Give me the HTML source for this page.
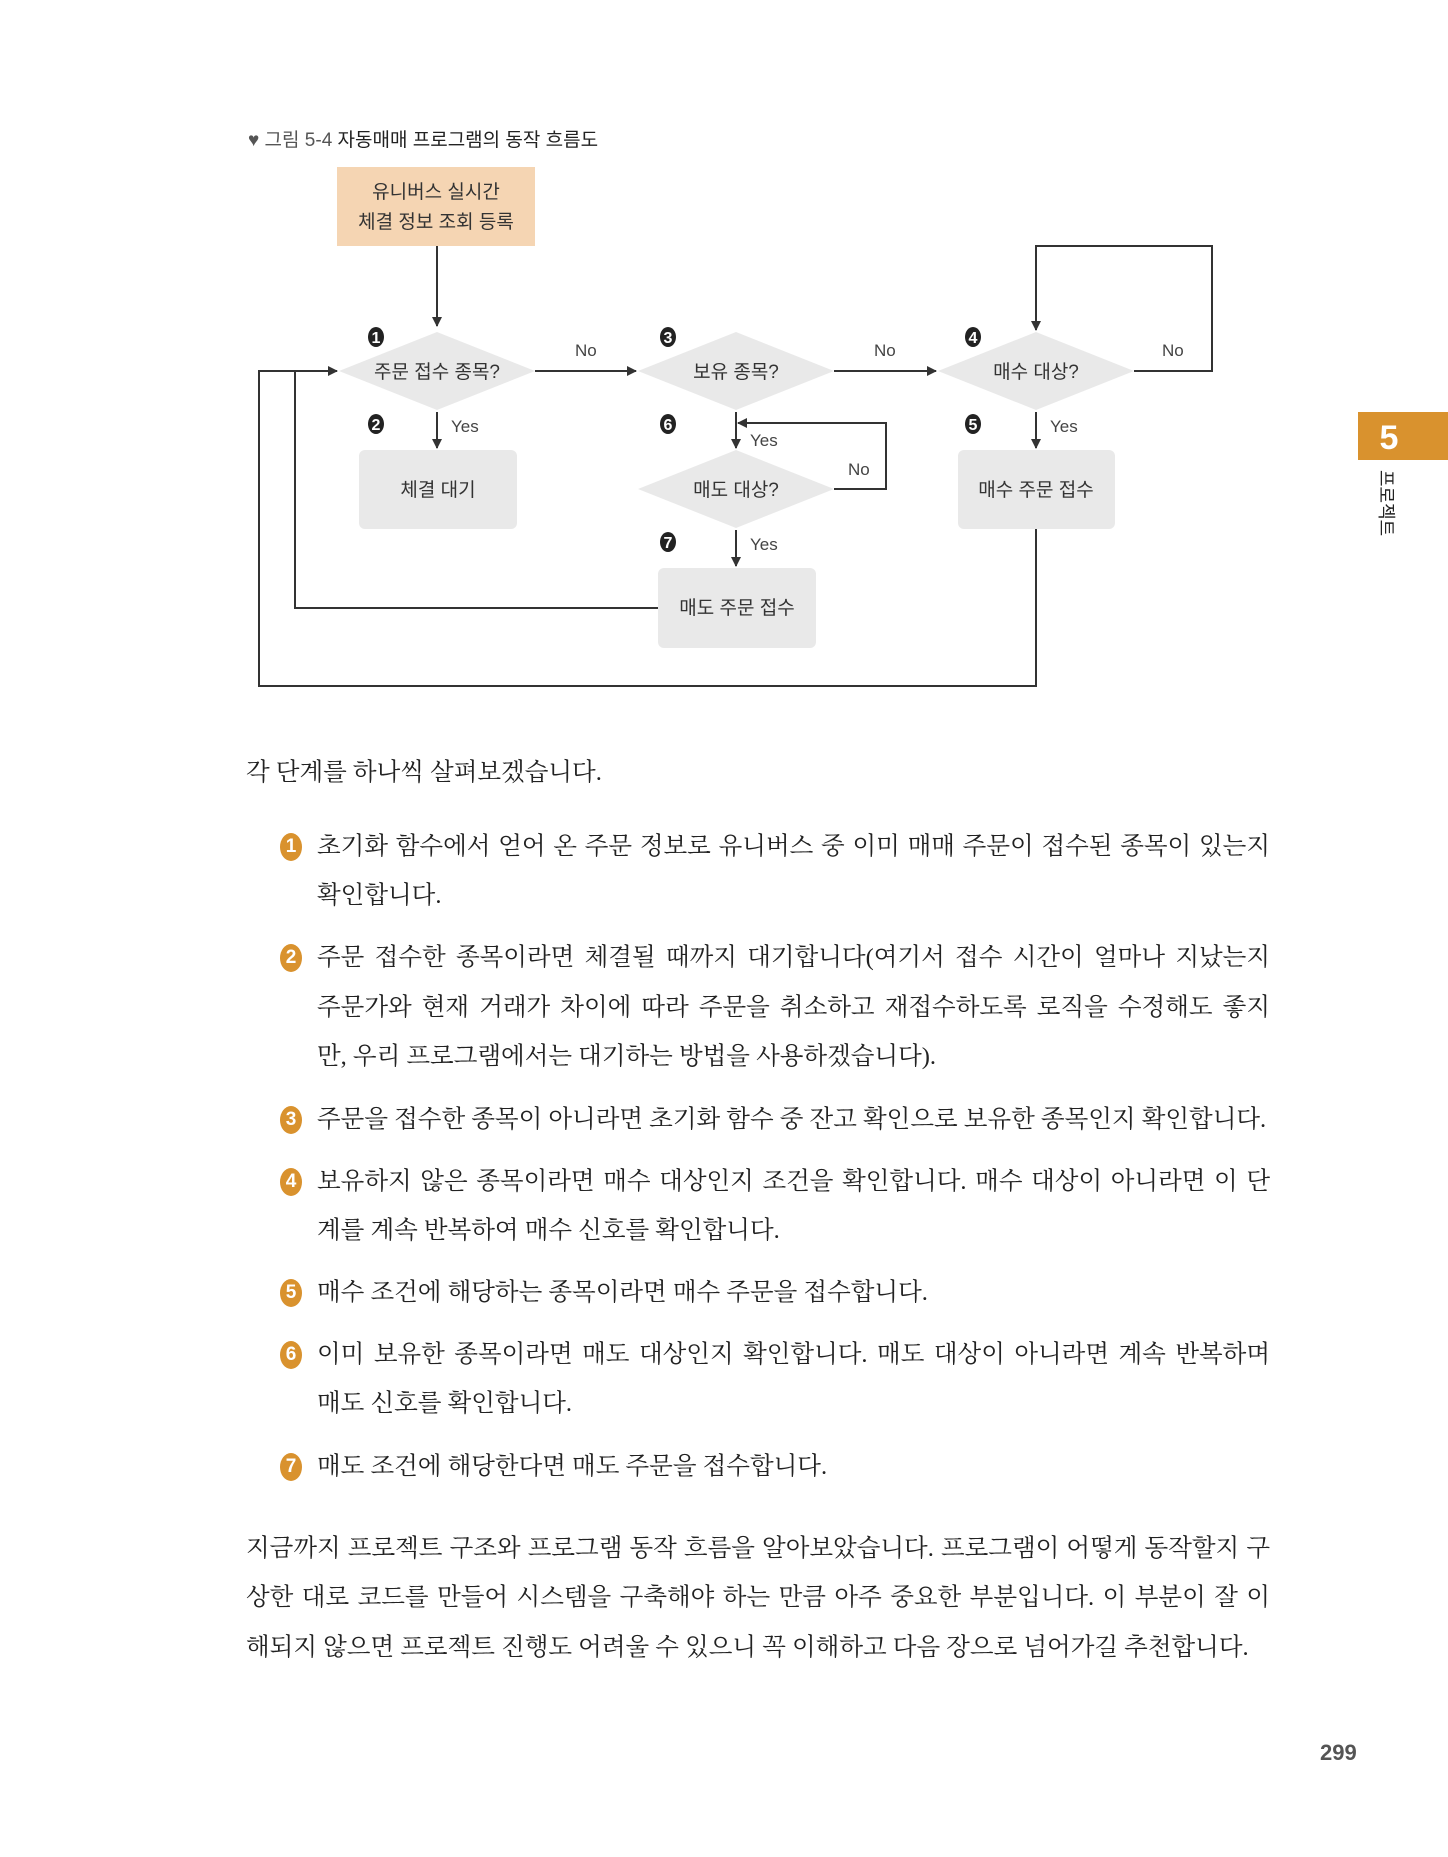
<!DOCTYPE html>
<html><head><meta charset="utf-8"><style>
body{margin:0;background:#fff;}
#p{position:relative;width:1448px;height:1857px;overflow:hidden;font-family:"Liberation Sans","Noto Sans CJK KR",sans-serif;color:#222;}
.t{position:absolute;font-family:"Liberation Serif","Noto Serif CJK SC",serif;font-size:24.5px;height:50px;line-height:50px;white-space:nowrap;color:#222;}
.j{text-align:justify;text-align-last:justify;white-space:normal;overflow:hidden;}
.b{position:absolute;width:22px;height:28px;border-radius:50%;background:#d9922e;color:#fff;font:bold 19px/28px "Liberation Sans",sans-serif;text-align:center;}
</style></head><body><div id="p">
<svg width="1448" height="760" style="position:absolute;left:0;top:0" font-family="Liberation Sans, Noto Sans CJK KR, sans-serif">
<defs><marker id="a" markerWidth="10" markerHeight="10" refX="9" refY="5" orient="auto" markerUnits="userSpaceOnUse"><path d="M0,0L10,5L0,10z" fill="#333"/></marker></defs>
<text x="248" y="146" font-size="19" fill="#555">♥ 그림 5-4 <tspan fill="#222">자동매매 프로그램의 동작 흐름도</tspan></text>
<rect x="337" y="167" width="198" height="79" fill="#f5d5b3"/>
<text x="436" y="198" font-size="19" text-anchor="middle" fill="#333">유니버스 실시간</text>
<text x="436" y="228" font-size="19" text-anchor="middle" fill="#333">체결 정보 조회 등록</text>
<g fill="#e9e9e9">
<polygon points="437,332 535,371 437,410 339,371"/>
<polygon points="736,332 834,371 736,410 638,371"/>
<polygon points="1036,332 1134,371 1036,410 938,371"/>
<polygon points="736,450 834,489 736,528 638,489"/>
<rect x="359" y="450" width="158" height="79" rx="6"/>
<rect x="958" y="450" width="157" height="79" rx="6"/>
<rect x="658" y="568" width="158" height="80" rx="6"/>
</g>
<g font-size="19" text-anchor="middle" fill="#333">
<text x="437" y="378">주문 접수 종목?</text>
<text x="736" y="378">보유 종목?</text>
<text x="1036" y="378">매수 대상?</text>
<text x="736" y="496">매도 대상?</text>
<text x="438" y="496">체결 대기</text>
<text x="1036" y="496">매수 주문 접수</text>
<text x="737" y="614">매도 주문 접수</text>
</g>
<g font-size="17" fill="#444">
<text x="575" y="356">No</text><text x="874" y="356">No</text><text x="1162" y="356">No</text>
<text x="451" y="432">Yes</text><text x="750" y="446">Yes</text><text x="1050" y="432">Yes</text>
<text x="848" y="475">No</text><text x="750" y="550">Yes</text>
</g>
<g font-size="16" font-weight="bold" fill="#fff" text-anchor="middle">
<ellipse cx="376" cy="337" rx="8" ry="10" fill="#222"/><text x="376" y="343">1</text>
<ellipse cx="376" cy="424" rx="8" ry="10" fill="#222"/><text x="376" y="430">2</text>
<ellipse cx="668" cy="337" rx="8" ry="10" fill="#222"/><text x="668" y="343">3</text>
<ellipse cx="973" cy="337" rx="8" ry="10" fill="#222"/><text x="973" y="343">4</text>
<ellipse cx="973" cy="424" rx="8" ry="10" fill="#222"/><text x="973" y="430">5</text>
<ellipse cx="668" cy="424" rx="8" ry="10" fill="#222"/><text x="668" y="430">6</text>
<ellipse cx="668" cy="542" rx="8" ry="10" fill="#222"/><text x="668" y="548">7</text>
</g>
<g stroke="#333" stroke-width="2" fill="none">
<path d="M437,246V326" marker-end="url(#a)"/>
<path d="M535,371H636" marker-end="url(#a)"/>
<path d="M834,371H936" marker-end="url(#a)"/>
<path d="M1134,371H1212V246H1036V330" marker-end="url(#a)"/>
<path d="M437,412V448" marker-end="url(#a)"/>
<path d="M1036,412V448" marker-end="url(#a)"/>
<path d="M736,412V448" marker-end="url(#a)"/>
<path d="M834,489H886V423H738"  marker-end="url(#a)"/>
<path d="M736,530V566" marker-end="url(#a)"/>
<path d="M658,608H295V371"/>
<path d="M1036,529V686H259V371H337" marker-end="url(#a)"/>
</g>
<rect x="1358" y="412" width="90" height="48" fill="#d9922e"/>
<text x="1389" y="449" font-size="34" font-weight="bold" fill="#fff" text-anchor="middle">5</text>
<text x="0" y="0" font-size="18" fill="#222" transform="translate(1380,470) rotate(90)">프로젝트</text>
</svg>
<div class="t" style="left:246px;top:748px">각 단계를 하나씩 살펴보겠습니다.</div>

<div class="b" style="left:280px;top:833px">1</div>
<div class="t j" style="left:317px;top:822px;width:953px">초기화 함수에서 얻어 온 주문 정보로 유니버스 중 이미 매매 주문이 접수된 종목이 있는지</div>
<div class="t" style="left:317px;top:871px">확인합니다.</div>

<div class="b" style="left:280px;top:944px">2</div>
<div class="t j" style="left:317px;top:933px;width:953px">주문 접수한 종목이라면 체결될 때까지 대기합니다(여기서 접수 시간이 얼마나 지났는지</div>
<div class="t j" style="left:317px;top:983px;width:953px">주문가와 현재 거래가 차이에 따라 주문을 취소하고 재접수하도록 로직을 수정해도 좋지</div>
<div class="t" style="left:317px;top:1032px">만, 우리 프로그램에서는 대기하는 방법을 사용하겠습니다).</div>

<div class="b" style="left:280px;top:1106px">3</div>
<div class="t" style="left:317px;top:1095px">주문을 접수한 종목이 아니라면 초기화 함수 중 잔고 확인으로 보유한 종목인지 확인합니다.</div>

<div class="b" style="left:280px;top:1168px">4</div>
<div class="t j" style="left:317px;top:1157px;width:953px">보유하지 않은 종목이라면 매수 대상인지 조건을 확인합니다. 매수 대상이 아니라면 이 단</div>
<div class="t" style="left:317px;top:1206px">계를 계속 반복하여 매수 신호를 확인합니다.</div>

<div class="b" style="left:280px;top:1279px">5</div>
<div class="t" style="left:317px;top:1268px">매수 조건에 해당하는 종목이라면 매수 주문을 접수합니다.</div>

<div class="b" style="left:280px;top:1341px">6</div>
<div class="t j" style="left:317px;top:1330px;width:953px">이미 보유한 종목이라면 매도 대상인지 확인합니다. 매도 대상이 아니라면 계속 반복하며</div>
<div class="t" style="left:317px;top:1379px">매도 신호를 확인합니다.</div>

<div class="b" style="left:280px;top:1453px">7</div>
<div class="t" style="left:317px;top:1442px">매도 조건에 해당한다면 매도 주문을 접수합니다.</div>

<div class="t j" style="left:246px;top:1524px;width:1024px">지금까지 프로젝트 구조와 프로그램 동작 흐름을 알아보았습니다. 프로그램이 어떻게 동작할지 구</div>
<div class="t j" style="left:246px;top:1573px;width:1024px">상한 대로 코드를 만들어 시스템을 구축해야 하는 만큼 아주 중요한 부분입니다. 이 부분이 잘 이</div>
<div class="t" style="left:246px;top:1623px">해되지 않으면 프로젝트 진행도 어려울 수 있으니 꼭 이해하고 다음 장으로 넘어가길 추천합니다.</div>

<div style="position:absolute;left:1320px;top:1740px;font:bold 22px 'Liberation Sans',sans-serif;color:#555">299</div>
</div></body></html>
